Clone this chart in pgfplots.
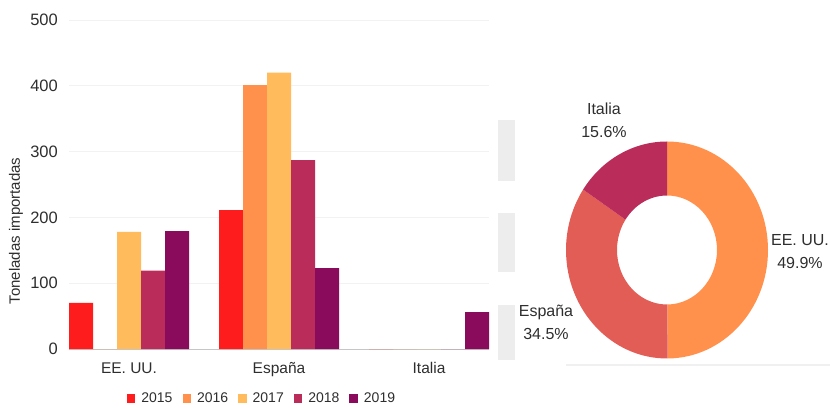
\documentclass[border=0pt]{standalone}
\usepackage{pgfplots}
\pgfplotsset{compat=1.18}
\usepackage{fontspec}
\setmainfont{Liberation Sans}
\definecolor{c15}{HTML}{FF1C1C}
\definecolor{c16}{HTML}{FF914D}
\definecolor{c17}{HTML}{FFBB5C}
\definecolor{c18}{HTML}{BA2D5B}
\definecolor{c19}{HTML}{8A0A5B}
\definecolor{cesp}{HTML}{E35D57}
\definecolor{txt}{HTML}{2E2E2E}
% donut shares (percent)
\def\pUS{49.9}
\def\pES{34.5}
\def\pIT{15.6}
\pgfmathsetmacro{\aA}{90}
\pgfmathsetmacro{\aB}{90-3.6*\pUS}
\pgfmathsetmacro{\aC}{\aB-3.6*\pES}
\pgfmathsetmacro{\aD}{\aC-3.6*\pIT}
\newcommand\sector[3]{\fill[#1] ([shift={(#2:101pt and 108.5pt)}]C) arc[start angle=#2, end angle=#3, x radius=101pt, y radius=108.5pt] -- ([shift={(#3:50pt and 54.5pt)}]C) arc[start angle=#3, end angle=#2, x radius=50pt, y radius=54.5pt] -- cycle;}
\begin{document}
\begin{tikzpicture}
\useasboundingbox (0,0) rectangle (830pt,407pt);
% faint artefacts
\fill[gray!14] (498pt,226pt) rectangle (515pt,287pt);
\fill[gray!14] (498pt,135pt) rectangle (515pt,194pt);
\fill[gray!14] (498pt,47pt) rectangle (515pt,102pt);
\draw[gray!12, line width=1.2pt] (566pt,42pt) -- (830pt,42pt);
\begin{axis}[
  at={(69pt,58pt)}, anchor=south west,
  scale only axis, width=420pt, height=329pt,
  ybar=0pt, bar width=0.16,
  xmin=-0.4, xmax=2.4, ymin=0, ymax=500,
  xtick={0,1,2}, xticklabels={EE. UU., España, Italia},
  ytick={0,100,200,300,400,500},
  extra y ticks={0}, extra y tick labels={},
  extra y tick style={grid style={draw=gray!45, line width=0.8pt}},
  axis line style={draw=none}, tick style={draw=none}, major tick length=0pt,
  ymajorgrids, grid style={draw=gray!10, line width=0.8pt},
  /pgf/number format/assume math mode=true,
  yticklabel style={font=\fontsize{16.5}{16.5}\selectfont, text=txt, inner sep=0pt, anchor=east, xshift=-11pt},
  xticklabel style={font=\fontsize{15.5}{15.5}\selectfont, text=txt, inner sep=0pt, anchor=north, text height=11pt, text depth=3pt, yshift=-13pt},
  ylabel={Toneladas importadas},
  ylabel style={at={(rel axis cs:-0.126,0.359)}, anchor=center, font=\fontsize{15}{15}\selectfont, text=txt},
  legend columns=5,
  legend image code/.code={\fill[#1] (0pt,-4.3pt) rectangle (8.6pt,4.3pt); \path (12.5pt,0pt);},
  legend style={at={(0.4595,-0.150)}, anchor=center, draw=none, fill=none,
    font=\fontsize{14}{14}\selectfont, text=txt,
    nodes={inner sep=2pt},
    /tikz/every even column/.append style={column sep=8pt}},
]
\addplot[fill=c15, draw=none] coordinates {(0,70) (1,211) (2,0)};
\addplot[fill=c16, draw=none] coordinates {(0,0) (1,401) (2,0)};
\addplot[fill=c17, draw=none] coordinates {(0,178) (1,420) (2,0)};
\addplot[fill=c18, draw=none] coordinates {(0,119) (1,287) (2,0)};
\addplot[fill=c19, draw=none] coordinates {(0,179) (1,123) (2,56)};
\legend{2015,2016,2017,2018,2019}
\end{axis}
\begin{axis}[
  at={(667pt,157pt)}, anchor=center,
  scale only axis, width=202pt, height=217pt,
  xmin=-1, xmax=1, ymin=-1, ymax=1,
  hide axis, clip=false,
]
\coordinate (C) at (axis cs:0,0);
\sector{c16}{\aA}{\aB}
\sector{cesp}{\aB}{\aC}
\sector{c18}{\aC}{\aD}
\node[align=center, font=\fontsize{16}{23}\selectfont, text=txt] at (axis cs:1.317,-0.018) {EE. UU.\\49.9\%};
\node[align=center, font=\fontsize{16}{23}\selectfont, text=txt] at (axis cs:-1.198,-0.664) {España\\34.5\%};
\node[align=center, font=\fontsize{16}{23}\selectfont, text=txt] at (axis cs:-0.624,1.198) {Italia\\15.6\%};
\end{axis}
\end{tikzpicture}
\end{document}
